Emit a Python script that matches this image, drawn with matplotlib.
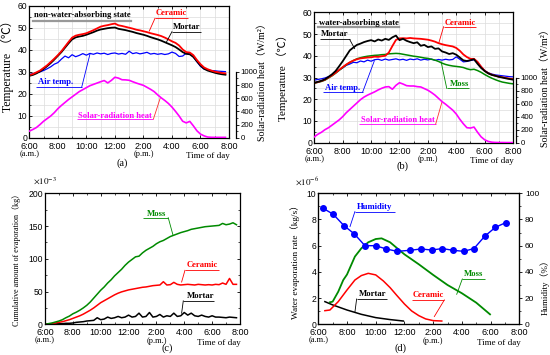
import numpy as np
import matplotlib
matplotlib.use('Agg')
import matplotlib.pyplot as plt
import matplotlib.ticker as ticker

SERIF = ['Liberation Serif', 'Noto Sans CJK JP', 'DejaVu Serif']
SANS = ['Liberation Sans', 'DejaVu Sans']

plt.rcParams['font.family'] = SANS
plt.rcParams['mathtext.fontset'] = 'stix'
plt.rcParams['xtick.direction'] = 'in'
plt.rcParams['ytick.direction'] = 'in'

# sampling times (hour of day, every 15 min)
hours = np.arange(6.0, 20.0, 0.25)
hours_b = np.arange(6.0, 20.01, 0.25)

tick_hours = [6, 8, 10, 12, 14, 16, 18, 20]
tick_labels = ['6:00', '8:00', '10:00', '12:00', '2:00', '4:00', '6:00', '8:00']

# (a) non-water-absorbing state, surface temperature [C]
ceramic_a = [28.5, 29.0, 29.8, 30.6, 31.8, 33.0, 34.5, 36.0, 37.6, 39.4, 41.5, 43.6,
             45.6, 46.5, 46.9, 47.2, 47.6, 48.3, 49.0, 49.8, 50.6, 51.0, 51.3, 51.7,
             52.0, 51.2, 50.9, 50.5, 50.1, 49.7, 49.2, 48.9, 48.5, 48.1, 47.6, 47.2,
             46.8, 46.3, 45.6, 44.8, 43.9, 43.2, 42.0, 40.2, 39.0, 38.8, 37.6, 35.4,
             33.5, 32.0, 31.2, 30.6, 30.1, 29.8, 29.5, 29.3]
mortar_a = [28.2, 28.6, 29.3, 30.2, 31.3, 32.6, 34.0, 35.6, 37.3, 39.0, 41.0, 43.0,
            44.8, 45.7, 46.1, 46.4, 46.9, 47.5, 48.1, 48.8, 49.3, 49.6, 49.9, 50.1,
            50.2, 49.6, 49.3, 49.0, 48.6, 48.2, 47.7, 47.3, 46.9, 46.4, 45.8, 45.3,
            44.8, 44.2, 43.5, 42.8, 42.1, 41.3, 40.2, 39.0, 38.2, 38.0, 36.8, 34.8,
            32.9, 31.4, 30.6, 30.1, 29.6, 29.2, 28.9, 28.7]
air_a = [28.8, 29.2, 29.6, 30.0, 30.6, 31.4, 32.3, 33.5, 34.2, 35.8, 37.2, 36.4,
         37.8, 36.9, 37.5, 38.3, 37.6, 38.4, 38.0, 38.6, 38.2, 38.5, 37.9, 38.4,
         38.6, 38.1, 38.4, 38.0, 39.4, 38.3, 38.7, 38.2, 38.5, 38.9, 38.1, 38.4,
         38.0, 38.3, 37.9, 38.2, 39.0, 38.4, 37.0, 37.2, 38.5, 38.2, 36.8, 34.6,
         32.5, 31.3, 30.9, 30.6, 30.5, 30.3, 30.2, 30.1]
solar_a = [100, 125, 155, 200, 250, 290, 330, 380, 440, 490, 535, 580,
           620, 660, 700, 730, 760, 790, 810, 830, 850, 868, 832, 870,
           918, 905, 880, 878, 872, 850, 830, 812, 795, 765, 735, 700,
           650, 605, 565, 520, 465, 400, 330, 250, 225, 248, 180, 105,
           55, 28, 10, 6, 5, 5, 5, 5]

# (b) water-absorbing state
mortar_b = [27.6, 28.0, 28.5, 29.2, 30.3, 31.5, 33.0, 35.2, 37.5, 40.0, 42.5, 43.8,
            45.0, 45.6, 46.3, 46.8, 47.2, 46.6, 47.5, 47.0, 47.8, 47.3, 48.5, 49.3,
            47.2, 47.8, 46.9, 46.3, 45.8, 46.2, 44.6, 45.0, 44.0, 44.3, 43.2, 43.4,
            42.0, 41.5, 40.8, 41.2, 40.5, 39.2, 37.9, 37.6, 38.0, 38.4, 36.3, 34.4,
            33.0, 31.9, 31.2, 30.8, 30.3, 30.0, 29.6, 29.3, 29.0]
ceramic_b = [27.5, 27.9, 28.4, 29.0, 30.0, 31.0, 32.2, 33.5, 34.8, 36.0, 37.0, 37.8,
             38.4, 38.8, 39.0, 39.2, 39.3, 39.6, 39.5, 39.8, 40.0, 41.5, 44.5, 47.3,
             48.0, 48.1, 48.0, 48.2, 48.0, 47.9, 47.8, 47.6, 47.4, 47.0, 46.5, 45.8,
             45.3, 44.9, 44.6, 44.3, 43.6, 42.3, 40.6, 39.4, 38.6, 38.6, 37.2, 35.0,
             33.1, 32.0, 31.3, 30.8, 30.4, 30.1, 29.8, 29.5, 29.3]
moss_b = [27.4, 27.8, 28.2, 28.8, 29.8, 30.8, 32.0, 33.3, 34.6, 35.8, 36.9, 37.8,
          38.6, 39.1, 39.5, 39.8, 40.0, 40.2, 40.3, 40.5, 40.6, 40.9, 41.0, 41.1,
          41.0, 40.7, 40.4, 40.1, 39.8, 39.6, 39.3, 39.0, 38.8, 38.4, 38.0, 37.4,
          36.6, 36.0, 35.6, 35.3, 35.1, 34.9, 34.6, 34.0, 33.6, 33.8, 33.2, 32.4,
          31.4, 30.5, 29.7, 29.0, 28.4, 27.9, 27.6, 27.3, 27.1]
air_b = [28.8, 29.1, 29.4, 29.8, 30.4, 31.2, 32.2, 33.4, 34.4, 35.6, 36.2, 37.0,
         36.8, 37.6, 37.2, 38.0, 37.5, 38.2, 38.4, 37.9, 38.5, 38.0, 38.3, 38.6,
         38.1, 38.4, 37.9, 38.5, 38.2, 38.6, 38.0, 38.4, 38.1, 38.5, 37.9, 38.3,
         38.0, 38.4, 38.1, 38.3, 39.5, 38.4, 37.2, 37.4, 37.8, 38.2, 36.8, 35.0,
         33.2, 32.2, 31.6, 31.2, 31.0, 30.8, 30.6, 30.4, 30.3]
solar_b = [90, 130, 160, 200, 230, 270, 310, 350, 400, 460, 510, 560,
           610, 660, 700, 730, 755, 780, 810, 835, 855, 860, 820, 880,
           920, 900, 875, 870, 870, 860, 855, 830, 805, 770, 730, 680,
           630, 590, 545, 500, 440, 360, 290, 230, 225, 240, 160, 90,
           45, 20, 8, 4, 3, 3, 2, 2, 2]

# (c) cumulative amount of evaporation [x10^-3 kg]
moss_c = [0, 1, 2, 3.5, 5, 7, 10, 12.5, 16, 18.5, 21.5, 25,
          29, 34, 40, 46, 52, 57, 63, 68, 74, 79, 84, 90,
          95, 99, 103, 104, 109, 113, 116, 119, 123, 126, 128, 131,
          134, 136, 138, 140, 141.5, 143, 145, 146, 147, 148, 149, 149.5,
          150, 150.5, 151, 154, 152, 153, 155, 152]
ceramic_c = [0, 0.5, 1, 2, 3, 4, 5.5, 7, 9, 11, 13, 15.5,
             18.5, 21.5, 25, 29, 33, 36, 39, 42, 45, 47.5, 49.5, 51,
             52.5, 53.5, 54.5, 55.5, 56.5, 57, 58, 59, 59.5, 60, 65, 60,
             60.5, 64, 61, 60, 60.5, 61, 60.5, 60, 61, 60.5, 60, 60.5,
             60, 61, 60.5, 63, 61, 70, 61, 61]
mortar_c = [0, 0, 0.5, 0.5, 1, 1, 1.5, 1.5, 2, 3, 3.5, 4,
            5, 5.5, 6, 10, 7, 8, 11, 9, 10, 12, 10, 11,
            14, 11, 12, 17, 11, 12, 18, 11, 12, 15, 11, 13,
            12, 17, 12, 13, 18, 14, 17, 13, 12, 14, 12, 11,
            13, 11, 11, 10.5, 10, 11, 10.5, 10]

# (d) water evaporation rate [x10^-6 kg/s] and relative humidity [%]
hum_t = [6.30, 7.04, 7.79, 8.51, 9.25, 9.99, 10.74, 11.48, 12.41, 13.15,
         13.89, 14.64, 15.38, 16.12, 16.84, 17.59, 18.33, 19.05]
humidity = [88.8, 84.0, 75.3, 69.0, 60.0, 60.0, 57.5, 55.7, 56.5, 57.5,
            56.7, 57.8, 56.5, 55.7, 57.8, 67.2, 74.0, 77.6]
moss_t = [6.81, 7.0, 7.39, 7.74, 8.0, 8.55, 9.0, 9.48, 10.0, 10.41, 11.0,
          12.0, 13.0, 14.0, 15.0, 16.0, 17.0, 17.96]
moss_rate = [1.68, 1.73, 2.49, 3.38, 3.8, 5.17, 5.8, 6.26, 6.51, 6.56, 6.26,
             5.34, 4.58, 3.77, 3.0, 2.37, 1.65, 0.76]
ceramic_t = [6.46, 6.81, 7.39, 8.0, 8.55, 9.0, 9.48, 10.0, 10.53, 11.0, 11.48,
             12.0, 12.5, 13.0, 13.48, 14.0, 14.6]
ceramic_rate = [1.04, 1.09, 1.73, 2.62, 3.38, 3.72, 3.89, 3.77, 3.31, 2.8, 2.19,
                1.55, 1.02, 0.66, 0.41, 0.28, 0.25]
mortar_t = [6.46, 7.0, 8.0, 9.0, 10.0, 11.0, 11.92]
mortar_rate = [1.73, 1.48, 1.09, 0.76, 0.51, 0.36, 0.25]

RED = '#ff0000'
BLUE = '#0000ff'
GREEN = '#008a00'
MAGENTA = '#ff00ff'


def time_axis(ax):
    ax.set_xlim(6, 20)
    ax.set_xticks(tick_hours)
    ax.set_xticklabels(tick_labels)
    ax.xaxis.set_minor_locator(ticker.MultipleLocator(1))
    ax.tick_params(which='both', top=True, right=True)
    ax.tick_params(axis='x', labelsize=6.5, pad=3)
    ax.tick_params(axis='y', labelsize=6.2, pad=1.5)
    ax.tick_params(which='major', length=2.5, width=0.6)
    ax.tick_params(which='minor', length=1.5, width=0.5)
    for s in ax.spines.values():
        s.set_linewidth(0.9)
    tr = ax.get_xaxis_transform()
    ax.text(6, -0.125, '(a.m.)', transform=tr, ha='center', va='center',
            family=SERIF, fontsize=6)
    ax.text(14, -0.125, '(p.m.)', transform=tr, ha='center', va='center',
            family=SERIF, fontsize=6)
    ax.text(1.005, -0.14, 'Time of day', transform=ax.transAxes, ha='right',
            va='center', family=SERIF, fontsize=6.5)


def callout(ax, text, pos, under, tip, color, lcolor=None, end='left'):
    ax.text(pos[0], pos[1], text, color=color, ha='center', va='center',
            family=SERIF, fontweight='bold', fontsize=6.2)
    x0, x1, y = under
    ax.plot([x0, x1], [y, y], color=color, lw=0.6, solid_capstyle='butt')
    xs = x0 if end == 'left' else x1
    ax.plot([xs, tip[0]], [y, tip[1]], color=lcolor or color, lw=0.6)


def state_label(ax, text, pos, under):
    ax.text(pos[0], pos[1], text, color='k', ha='center', va='center',
            family=SERIF, fontweight='bold', fontsize=6.2)
    ax.plot([under[0], under[1]], [under[2], under[2]], color='#999999', lw=1.6)


def solar_axis(ax, x, y, label_xy, offset):
    ax2 = ax.twinx()
    ax2.plot(x, y, color=MAGENTA, lw=1.2)
    ax2.set_ylim(0, 2000)
    ax2.set_yticks([0, 200, 400, 600, 800, 1000])
    ax2.yaxis.set_minor_locator(ticker.FixedLocator([100, 300, 500, 700, 900]))
    ax2.spines['right'].set_bounds(0, 1000)
    ax2.spines['right'].set_position(('outward', offset))
    ax2.spines['right'].set_linewidth(0.9)
    for s in ['top', 'left', 'bottom']:
        ax2.spines[s].set_visible(False)
    ax2.tick_params(axis='y', which='both', direction='out', labelsize=5.6, pad=1)
    ax2.tick_params(axis='y', which='major', length=2.5, width=0.6)
    ax2.tick_params(axis='y', which='minor', length=1.5, width=0.5)
    ax2.set_ylabel('Solar-radiation heat（W/m²）', family=SERIF, fontsize=7.2)
    ax2.yaxis.set_label_coords(*label_xy)
    return ax2


def temp_axis(ax, label_xy, fs):
    ax.set_ylim(0, 60)
    ax.yaxis.set_major_locator(ticker.MultipleLocator(10))
    ax.yaxis.set_minor_locator(ticker.MultipleLocator(5))
    ax.grid(which='both', color='#dcdcdc', lw=0.5)
    ax.set_axisbelow(True)
    ax.set_ylabel('Temperature （℃）', family=SERIF, fontsize=fs)
    ax.yaxis.set_label_coords(*label_xy)


fig = plt.figure(figsize=(5.5, 3.55), dpi=100)

# ---- (a)
ax = fig.add_axes([0.0533, 0.6121, 0.3631, 0.371])
time_axis(ax)
temp_axis(ax, (-0.077, 0.563), 8.5)
ax.plot(hours, air_a, color=BLUE, lw=0.9)
ax.plot(hours, mortar_a, color='k', lw=1.3)
ax.plot(hours, ceramic_a, color=RED, lw=1.3)
state_label(ax, 'non-water-absorbing state', (9.73, 55.9), (6.26, 13.13, 53.3))
callout(ax, 'Ceramic', (15.94, 56.6), (14.81, 17.13, 54.4), (14.41, 48.6), RED)
callout(ax, 'Mortar', (17.03, 50.6), (16.0, 18.04, 48.3), (15.59, 43.3), 'k')
callout(ax, 'Air temp.', (7.87, 25.5), (6.47, 9.67, 22.96), (10.26, 38.3), BLUE, end='right')
callout(ax, 'Solar-radiation heat', (12.02, 9.9), (9.32, 14.7, 8.5), (15.17, 17.9),
        MAGENTA, lcolor='#ff3030', end='right')
solar_axis(ax, hours, solar_a, (1.145, 0.44), 5)

# ---- (b)
ax = fig.add_axes([0.5715, 0.598, 0.3613, 0.3673])
time_axis(ax)
temp_axis(ax, (-0.131, 0.52), 8)
ax.plot(hours_b, air_b, color=BLUE, lw=0.9)
ax.plot(hours_b, moss_b, color=GREEN, lw=1.1)
ax.plot(hours_b, ceramic_b, color=RED, lw=1.3)
ax.plot(hours_b, mortar_b, color='k', lw=1.3)
state_label(ax, 'water-absorbing state', (9.12, 55.2), (6.28, 11.98, 53.1))
callout(ax, 'Mortar', (7.44, 49.8), (6.4, 8.49, 47.5), (8.84, 43.3), 'k', end='right')
callout(ax, 'Ceramic', (16.28, 55.2), (15.11, 17.42, 53.4), (14.77, 45.9), RED)
callout(ax, 'Moss', (16.23, 26.9), (15.33, 16.9, 25.0), (14.93, 37.3), GREEN)
callout(ax, 'Air temp.', (8.02, 25.0), (6.6, 9.4, 23.2), (10.23, 37.7), BLUE, end='right')
callout(ax, 'Solar-radiation heat', (11.89, 10.4), (9.18, 14.55, 8.6), (15.0, 18.9),
        MAGENTA, lcolor='#ff3030', end='right')
solar_axis(ax, hours_b, solar_b, (1.14, 0.435), 2)

# ---- (c)
ax = fig.add_axes([0.0818, 0.0865, 0.3545, 0.369])
time_axis(ax)
ax.set_ylim(0, 200)
ax.yaxis.set_major_locator(ticker.MultipleLocator(50))
ax.yaxis.set_minor_locator(ticker.MultipleLocator(25))
ax.plot(hours, mortar_c, color='k', lw=1.1)
ax.plot(hours, ceramic_c, color=RED, lw=1.1)
ax.plot(hours, moss_c, color=GREEN, lw=1.1)
ax.set_ylabel('Cumulative amount of evaporation（kg）', family=SERIF, fontsize=5.8)
ax.yaxis.set_label_coords(-0.125, 0.504)
ax.text(0.0, 1.094, r'$\times10^{-3}$', transform=ax.transAxes, ha='center',
        va='center', fontsize=6.5)
callout(ax, 'Moss', (14.0, 167.8), (13.06, 14.85, 162.7), (15.2, 135.5), GREEN, end='right')
callout(ax, 'Ceramic', (17.29, 90), (16.05, 18.49, 82.4), (15.81, 64.5), RED)
callout(ax, 'Mortar', (17.17, 42.5), (15.93, 18.15, 35.8), (15.81, 16.9), 'k')

# ---- (d)
ax = fig.add_axes([0.5787, 0.0865, 0.3655, 0.369])
time_axis(ax)
ax.tick_params(axis='y', which='both', right=False)
ax.set_ylim(0, 10)
ax.yaxis.set_major_locator(ticker.MultipleLocator(2))
ax.yaxis.set_minor_locator(ticker.MultipleLocator(1))
ax.plot(mortar_t, mortar_rate, color='k', lw=1.1)
ax.plot(ceramic_t, ceramic_rate, color=RED, lw=1.1)
ax.plot(moss_t, moss_rate, color=GREEN, lw=1.3)
ax.set_ylabel('Water evaporation rate（kg/s）', family=SERIF, fontsize=6.7)
ax.yaxis.set_label_coords(-0.091, 0.49)
ax.text(-0.054, 1.089, r'$\times10^{-6}$', transform=ax.transAxes, ha='center',
        va='center', fontsize=6.5)
callout(ax, 'Humidity', (9.95, 8.98), (8.55, 11.34, 8.6), (8.21, 7.46), BLUE)
callout(ax, 'Moss', (16.84, 3.84), (16.03, 17.61, 3.46), (15.64, 2.29), GREEN)
callout(ax, 'Ceramic', (13.66, 2.24), (12.5, 14.78, 1.86), (14.08, 0.59), RED, end='right')
callout(ax, 'Mortar', (9.76, 2.29), (8.67, 10.76, 1.93), (8.55, 0.92), 'k')
ax2 = ax.twinx()
ax2.plot(hum_t, humidity, color=BLUE, lw=1.0, marker='o', ms=4)
ax2.set_ylim(0, 100)
ax2.yaxis.set_major_locator(ticker.MultipleLocator(20))
ax2.yaxis.set_minor_locator(ticker.MultipleLocator(10))
ax2.tick_params(axis='y', which='both', direction='out', labelsize=6, pad=1.5)
ax2.tick_params(axis='y', which='major', length=2.5, width=0.6)
ax2.tick_params(axis='y', which='minor', length=1.5, width=0.5)
ax2.set_ylabel('Humidity（%）', family=SERIF, fontsize=6.5)
ax2.yaxis.set_label_coords(1.103, 0.3)

fig.text(0.222, 0.541, '(a)', ha='center', va='center', family=SERIF, fontsize=7.5)
fig.text(0.731, 0.532, '(b)', ha='center', va='center', family=SERIF, fontsize=7.5)
fig.text(0.304, 0.0197, '(c)', ha='center', va='center', family=SERIF, fontsize=7.5)
fig.text(0.729, 0.0197, '(d)', ha='center', va='center', family=SERIF, fontsize=7.5)

fig.savefig('out.png', dpi=100)
